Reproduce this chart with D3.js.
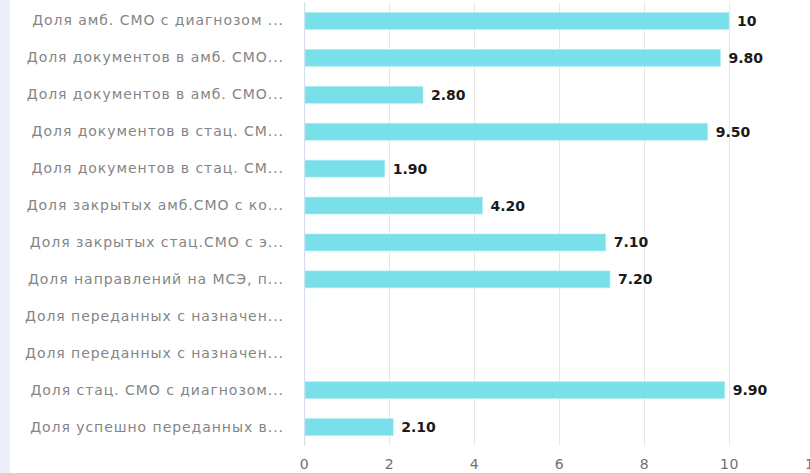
<!DOCTYPE html>
<html><head><meta charset="utf-8">
<script src="https://cdn.jsdelivr.net/npm/d3@7"></script>
<style>
html,body{margin:0;padding:0;background:#fff;}
svg{display:block;}
</style></head>
<body>
<svg id="chart" width="810" height="473"></svg>
<script>
const categories = [
  "Доля амб. СМО с диагнозом ...",
  "Доля документов в амб. СМО...",
  "Доля документов в амб. СМО...",
  "Доля документов в стац. СМ...",
  "Доля документов в стац. СМ...",
  "Доля закрытых амб.СМО с ко...",
  "Доля закрытых стац.СМО с э...",
  "Доля направлений на МСЭ, п...",
  "Доля переданных с назначен...",
  "Доля переданных с назначен...",
  "Доля стац. СМО с диагнозом...",
  "Доля успешно переданных в..."
];
const values = [10, 9.8, 2.8, 9.5, 1.9, 4.2, 7.1, 7.2, null, null, 9.9, 2.1];
const xTicks = [0, 2, 4, 6, 8, 10, 12];

const svg = d3.select("#chart");
const W = 810, H = 473;
const x0 = 304, x1 = 814, yTop = 2.5, yBot = 445.5;

// left strip
svg.append("rect").attr("x", 0).attr("y", 0).attr("width", 10).attr("height", H).attr("fill", "#eceef8");

const x = d3.scaleLinear().domain([0, 12]).range([x0, x1]);
const y = d3.scaleBand().domain(d3.range(categories.length)).range([yTop, yBot]).paddingInner(0.54).paddingOuter(0.27);

// grid
svg.append("g").selectAll("line").data(xTicks.filter(t => t > 0)).join("line")
  .attr("x1", d => Math.round(x(d)) + 0.5).attr("x2", d => Math.round(x(d)) + 0.5)
  .attr("y1", yTop).attr("y2", yBot)
  .attr("stroke", "#e6e6e6").attr("stroke-width", 1);

// y axis line
svg.append("line").attr("x1", x0 + 0.5).attr("x2", x0 + 0.5).attr("y1", yTop).attr("y2", yBot)
  .attr("stroke", "#d6dcf0").attr("stroke-width", 1.2);

// x axis labels
const xAxis = d3.axisBottom(x).tickValues(xTicks).tickSize(0).tickPadding(0);
const gx = svg.append("g").attr("transform", `translate(0,${yBot})`).call(xAxis);
gx.select(".domain").remove();
gx.selectAll("text").attr("y", 23).attr("dy", 0)
  .style("font-family", "'DejaVu Sans', Verdana, sans-serif").style("font-size", "14px")
  .style("letter-spacing", "0.6px").attr("fill", "#707070");

// y axis labels
const yAxis = d3.axisLeft(y).tickFormat(i => categories[i]).tickSize(0).tickPadding(0);
const gy = svg.append("g").attr("transform", `translate(${x0 - 20},0)`).call(yAxis);
gy.select(".domain").remove();
gy.selectAll("text")
  .style("font-family", "'DejaVu Sans', Verdana, sans-serif").style("font-size", "14px")
  .style("letter-spacing", "0.95px").attr("fill", "#858585");

const data = values.map((v, i) => ({i, v})).filter(d => d.v != null);

// bars
svg.append("g").selectAll("rect").data(data).join("rect")
  .attr("x", x(0) + 1).attr("y", d => y(d.i))
  .attr("width", d => x(d.v) - x(0) - 1).attr("height", y.bandwidth())
  .attr("fill", "#79dfe8").attr("stroke", "#b8eef3").attr("stroke-width", 0.6);

const fmt = v => Number.isInteger(v) ? String(v) : v.toFixed(2);
svg.append("g").selectAll("text").data(data).join("text")
  .attr("x", d => x(d.v) + 8).attr("y", d => y(d.i) + y.bandwidth() / 2)
  .attr("dy", "0.36em")
  .style("font-family", "'DejaVu Sans', Verdana, sans-serif").style("font-size", "14px").style("font-weight", "bold")
  .attr("fill", "#1a1a1a")
  .text(d => fmt(d.v));
</script>
</body></html>
